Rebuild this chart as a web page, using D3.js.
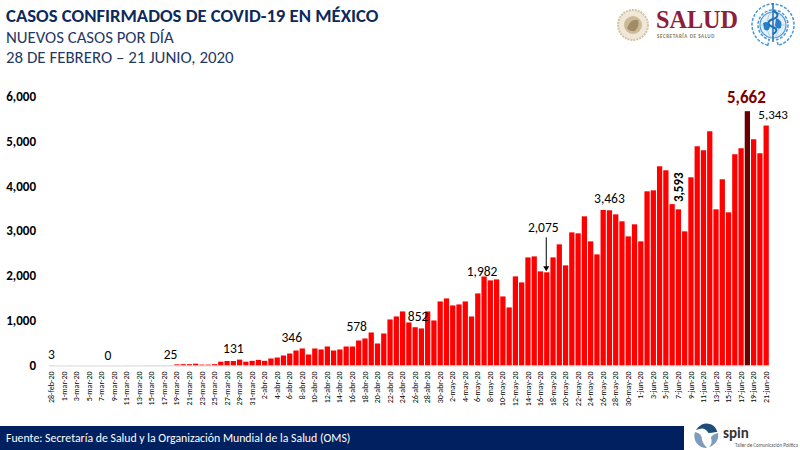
<!DOCTYPE html>
<html>
<head>
<meta charset="utf-8">
<script src="https://cdn.jsdelivr.net/npm/d3@7"></script>
<style>
  html, body { margin: 0; padding: 0; background: #fff; }
  svg { display: block; }
  text { font-family: Carlito, Calibri, "Open Sans", sans-serif; }
</style>
</head>
<body>
<svg id="chart" width="800" height="450"></svg>
<script>
const startDate = new Date(2020, 1, 28);

// daily new cases
const febMar = [3, 0, 0, 1, 0, 0, 0, 0, 0, 0, 1, 0, 1, 1, 1, 2, 2, 2, 3, 3, 25, 29, 29, 41, 20, 20, 30, 85, 100, 100, 131, 85, 104];
const apr = [125, 104, 156, 178, 223, 267, 334, 379, 245, 379, 357, 423, 334, 357, 423, 423, 557, 602, 735, 490, 713, 1025, 1092, 1204, 958, 852, 825, 1204, 1003, 1426];
const may = [1493, 1337, 1360, 1426, 1092, 1605, 1982, 1895, 1917, 1538, 1293, 1984, 1850, 2407, 2429, 2095, 2075, 2407, 2697, 2229, 2964, 2942, 3321, 2764, 2474, 3463, 3455, 3365, 3210, 2875, 3143];
const jun = [2764, 3878, 3900, 4435, 4346, 3593, 3477, 2987, 4190, 4881, 4792, 5215, 3477, 4146, 3410, 4703, 4837, 5662, 5037, 4725, 5343];

const values = [...febMar, ...apr, ...may, ...jun];
const peakIndex = values.indexOf(d3.max(values));

const yTicks = [0, 1000, 2000, 3000, 4000, 5000, 6000];
const monthNames = ['ene', 'feb', 'mar', 'abr', 'may', 'jun'];

// value labels that float over the bars
const calloutDays = [0, 9, 19, 29, 38, 49, 58, 69, 89];
const calloutValues = [3, 0, 25, 131, 346, 578, 852, 1982, 3463];

const svg = d3.select('#chart');
const navy = '#0b2a5b';
const fontStack = 'Carlito, Calibri, "Open Sans", sans-serif';

const dayLabel = (i) => {
  const d = d3.timeDay.offset(startDate, i);
  return `${d.getDate()}-${monthNames[d.getMonth()]}-20`;
};

const x = d3.scaleBand()
  .domain(d3.range(values.length))
  .range([48.4, 769.3])
  .paddingInner(0.16)
  .paddingOuter(0.08);

const y = d3.scaleLinear().domain([0, 6000]).range([365.5, 96]);

const cx = (i) => x(i) + x.bandwidth() / 2;
const fmt = d3.format(',');

// titles
svg.append('text').attr('x', 6).attr('y', 22).attr('fill', navy)
  .attr('font-size', 18.7).attr('font-weight', 700).text('CASOS CONFIRMADOS DE COVID-19 EN MÉXICO');
svg.append('text').attr('x', 6).attr('y', 43).attr('fill', '#1f3864')
  .attr('font-size', 16.8).text('NUEVOS CASOS POR DÍA');
svg.append('text').attr('x', 6).attr('y', 63).attr('fill', '#1f3864')
  .attr('font-size', 16.9).text('28 DE FEBRERO – 21 JUNIO, 2020');

// bars
svg.selectAll('.bar')
  .data(values)
  .join('rect')
  .attr('class', 'bar')
  .attr('x', (d, i) => x(i))
  .attr('y', (d) => y(d))
  .attr('width', x.bandwidth())
  .attr('height', (d) => y(0) - y(d))
  .attr('fill', (d, i) => (i === peakIndex ? '#6b0000' : '#ff0000'));

// y axis
const yAxis = d3.axisLeft(y).tickValues(yTicks).tickSize(0).tickPadding(10).tickFormat(fmt);
svg.append('g').attr('transform', 'translate(46,0)').call(yAxis)
  .call((g) => g.select('.domain').remove())
  .call((g) => g.selectAll('text').attr('font-size', 13).attr('font-weight', 700)
    .attr('fill', '#000').style('font-family', fontStack));

// x axis, every other day
const xAxis = d3.axisBottom(x)
  .tickValues(d3.range(0, values.length, 2))
  .tickSize(0)
  .tickFormat(dayLabel);
svg.append('g').attr('transform', `translate(0,${y(0)})`).call(xAxis)
  .call((g) => g.select('.domain').attr('stroke', '#d9d9d9').attr('stroke-width', 1))
  .call((g) => g.selectAll('text')
    .attr('transform', 'rotate(-90)')
    .attr('text-anchor', 'end')
    .attr('x', -6).attr('y', 0).attr('dy', '0.32em')
    .attr('font-size', 8).attr('font-weight', 400).attr('fill', '#000')
    .style('font-family', fontStack));

// value labels
const calloutDx = [0, 0, 0, 0, 2, -2, 3, -2, 0];
const calloutDy = [6, 6, 5, 7, 8, 9, 6, 0, 7];
svg.selectAll('.callout')
  .data(calloutValues)
  .join('text')
  .attr('class', 'callout')
  .attr('x', (d, i) => cx(calloutDays[i]) + calloutDx[i])
  .attr('y', (d, i) => y(d) - calloutDy[i])
  .attr('text-anchor', 'middle')
  .attr('font-size', 13.5)
  .attr('fill', '#000')
  .text((d) => fmt(d));

svg.append('text').attr('x', cx(peakIndex) - 1).attr('y', y(values[peakIndex]) - 8).attr('text-anchor', 'middle')
  .attr('font-size', 17).attr('font-weight', 700).attr('fill', '#7f0000').text(fmt(values[peakIndex]));

const lastIndex = values.length - 1;
svg.append('text').attr('x', cx(lastIndex) + 7).attr('y', y(values[lastIndex]) - 7).attr('text-anchor', 'middle')
  .attr('font-size', 13).attr('fill', '#000').text(fmt(values[lastIndex]));

// 3,593 sits sideways above the next day's bar
svg.append('text').attr('transform', `translate(${cx(100) + 5},${y(3593) - 2}) rotate(-90)`)
  .attr('font-size', 13).attr('font-weight', 700).attr('fill', '#000').text(fmt(3593));

// 2,075 with arrow
const arrowX = cx(79) - 0.5;
const arrowTip = y(2075) - 1;
svg.append('text').attr('x', arrowX - 3).attr('y', arrowTip - 39).attr('text-anchor', 'middle')
  .attr('font-size', 13.5).attr('fill', '#000').text(fmt(2075));
svg.append('line').attr('x1', arrowX).attr('x2', arrowX).attr('y1', arrowTip - 34).attr('y2', arrowTip - 4)
  .attr('stroke', '#000').attr('stroke-width', 1);
svg.append('path').attr('d', `M${arrowX - 3},${arrowTip - 5} L${arrowX + 3},${arrowTip - 5} L${arrowX},${arrowTip} Z`).attr('fill', '#000');

// footer
svg.append('rect').attr('x', 0).attr('y', 426).attr('width', 684).attr('height', 24).attr('fill', '#002060');
svg.append('text').attr('x', 6).attr('y', 442).attr('fill', '#fff').attr('font-size', 11.8)
  .text('Fuente: Secretaría de Salud y la Organización Mundial de la Salud (OMS)');

// spin logo, rough
const spin = svg.append('g').attr('transform', 'translate(706,435)');
spin.append('path').attr('d', 'M-7,-7 A10,10 0 0 1 10,-4 Q5,-3 3,-3 Q-1,-9 -7,-7 Z').attr('fill', '#1d4e79').attr('stroke', '#1d4e79').attr('stroke-width', 2);
spin.append('path').attr('d', 'M-11,-3 Q-4,-2 -4,5 Q-3,9 1,13 A12,12 0 0 1 -11,-3 Z').attr('fill', '#7f9cbc');
spin.append('path').attr('d', 'M12,-2 A12,12 0 0 1 3,12 Q7,8 5,3 Q5,0 12,-2 Z').attr('fill', '#7f9cbc');
svg.append('text').attr('x', 723).attr('y', 438).attr('font-size', 15).attr('font-weight', 700)
  .attr('fill', '#333').text('spin');
svg.append('text').attr('x', 735).attr('y', 447).attr('font-size', 5).attr('fill', '#555')
  .text('Taller de Comunicación Política');

// salud logo, rough
const seal = svg.append('g').attr('transform', 'translate(633,25)');
seal.append('circle').attr('r', 15).attr('fill', '#efe8d8').attr('stroke', '#d3c4a4').attr('stroke-width', 2).attr('stroke-dasharray', '2 1');
seal.append('circle').attr('r', 9).attr('fill', '#cdbb98');
seal.append('path').attr('d', 'M-6,3 Q-2,-7 5,-5 Q7,1 2,6 Q-3,7 -6,3 Z').attr('fill', '#a08c66');
svg.append('text').attr('x', 656).attr('y', 28).attr('font-size', 25).attr('font-weight', 700)
  .attr('textLength', 82).attr('lengthAdjust', 'spacingAndGlyphs')
  .attr('fill', '#8f1d3c').style('font-family', '"Liberation Serif", serif').text('SALUD');
svg.append('text').attr('x', 657).attr('y', 38).attr('font-size', 5).attr('font-weight', 700)
  .attr('fill', '#8a7a5a').attr('letter-spacing', 0.6).text('SECRETARÍA DE SALUD');

// who emblem, rough
const who = svg.append('g').attr('transform', 'translate(773,25)');
who.append('path').attr('d', d3.arc()({ innerRadius: 15, outerRadius: 21, startAngle: -Math.PI * 0.92, endAngle: Math.PI * 0.92 }))
  .attr('fill', 'none').attr('stroke', '#4a97d6').attr('stroke-width', 1.5).attr('stroke-dasharray', '3 1.5');
who.append('circle').attr('r', 13).attr('fill', '#e4eff8').attr('stroke', '#4a97d6').attr('stroke-width', 1.2);
who.append('ellipse').attr('rx', 6).attr('ry', 13).attr('fill', 'none').attr('stroke', '#9cc6e8').attr('stroke-width', 0.7);
who.append('line').attr('x1', -13).attr('x2', 13).attr('y1', 0).attr('y2', 0).attr('stroke', '#9cc6e8').attr('stroke-width', 0.7);
who.append('path').attr('d', 'M-10,-2 Q-4,-5 -3,2 Q-5,8 -9,4 Z M3,-7 Q10,-5 8,3 Q3,5 2,0 Z').attr('fill', '#2a7fc4');
who.append('line').attr('x1', 0).attr('x2', 0).attr('y1', -22).attr('y2', 17).attr('stroke', '#1f6fb5').attr('stroke-width', 1.5);
who.append('path').attr('d', 'M0,-14 C6,-12 6,-8 0,-6 C-6,-4 -6,0 0,2 C5,4 4,7 0,9').attr('fill', 'none').attr('stroke', '#1f6fb5').attr('stroke-width', 2);
</script>
</body>
</html>
